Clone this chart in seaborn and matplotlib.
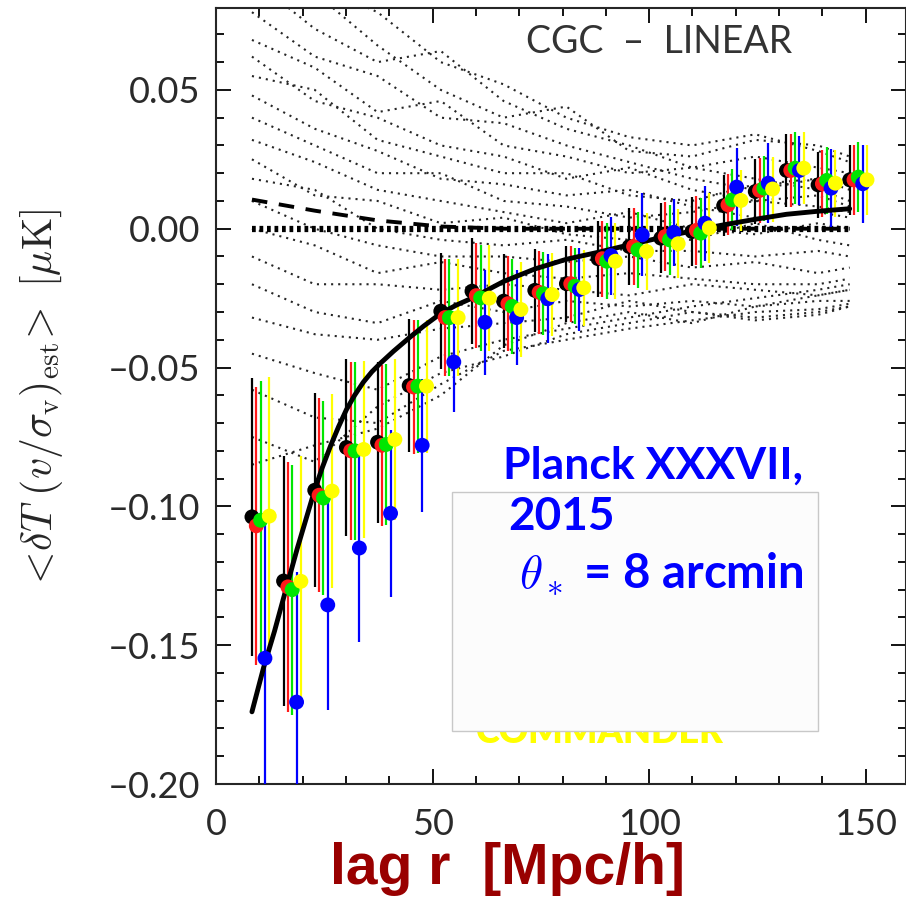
"""CGC - LINEAR pairwise kSZ estimator vs lag, Planck XXXVII style"""
import matplotlib

matplotlib.use("Agg")
import matplotlib.pyplot as plt
import numpy as np
import pandas as pd
import seaborn as sns
from matplotlib.patches import Rectangle
from matplotlib.ticker import FuncFormatter, MultipleLocator

sns.set_style("ticks")
plt.rcParams.update(
    {
        "font.family": ["Lato", "DejaVu Sans"],
        "mathtext.fontset": "cm",
        "axes.linewidth": 1.5,
    }
)

# lag bins [Mpc/h]
lags = [8.3, 15.6, 22.8, 30.1, 37.3, 44.6, 51.9, 59.1, 66.4, 73.6,
        80.9, 88.2, 95.4, 102.7, 109.9, 117.2, 124.5, 131.7, 139.0, 146.3]

# measured estimator per map [muK]
black = [-0.1038, -0.1269, -0.0942, -0.0788, -0.0769, -0.0565, -0.0297, -0.0225, -0.0261, -0.0222,
         -0.0198, -0.0108, -0.0064, -0.0034, -0.0010, 0.0083, 0.0134, 0.0210, 0.0158, 0.0176]
red = [-0.1070, -0.1290, -0.0960, -0.0800, -0.0780, -0.0570, -0.0320, -0.0241, -0.0270, -0.0229,
       -0.0198, -0.0108, -0.0064, -0.0028, -0.0006, 0.0086, 0.0138, 0.0210, 0.0162, 0.0176]
green = [-0.1050, -0.1300, -0.0970, -0.0800, -0.0777, -0.0567, -0.0320, -0.0249, -0.0280, -0.0234,
         -0.0207, -0.0117, -0.0076, -0.0040, -0.0016, 0.0104, 0.0146, 0.0218, 0.0174, 0.0186]
blue = [-0.1547, -0.1705, -0.1355, -0.1150, -0.1025, -0.0780, -0.0480, -0.0337, -0.0320, -0.0252,
        -0.0219, -0.0097, -0.0022, -0.0013, 0.0020, 0.0150, 0.0164, 0.0210, 0.0146, 0.0162]
yellow = [-0.1035, -0.1270, -0.0945, -0.0795, -0.0759, -0.0567, -0.0320, -0.0250, -0.0291, -0.0237,
          -0.0213, -0.0117, -0.0082, -0.0054, 0.0003, 0.0102, 0.0143, 0.0218, 0.0164, 0.0176]

# 1-sigma errors
err_main = [0.050, 0.045, 0.035, 0.032, 0.029, 0.024, 0.021, 0.019, 0.017, 0.015,
            0.0137, 0.0137, 0.0137, 0.0125, 0.0125, 0.011, 0.0117, 0.013, 0.012, 0.0125]
err_blue = [0.050, 0.047, 0.038, 0.034, 0.030, 0.024, 0.018, 0.019, 0.017, 0.016,
            0.015, 0.014, 0.015, 0.012, 0.0135, 0.014, 0.0145, 0.0125, 0.014, 0.014]

# theoretical prediction (read on a finer grid)
model_lags = [8.3, 11.0, 13.5, 15.6, 18.7, 22.8, 24.5, 26.5, 28.3, 30.1, 32.0, 34.0, 36.0,
              38.0, 41.0, 44.6, 48.0, 51.9, 55.5, 59.1, 66.4, 73.6, 80.9, 88.2, 95.4, 102.7,
              109.9, 117.2, 124.5, 131.7, 139.0, 146.3]
model = [-0.174, -0.158, -0.145, -0.133, -0.1155, -0.094, -0.0862, -0.078, -0.0713, -0.0652,
         -0.0600, -0.0553, -0.0515, -0.0484, -0.0441, -0.0393, -0.0350, -0.0305, -0.0275,
         -0.0250, -0.0190, -0.0145, -0.0110, -0.0085, -0.0058, -0.0032, -0.0008, 0.0014,
         0.0034, 0.0052, 0.0063, 0.0072]

# null simulations (dotted), sampled at every other lag bin
sim_lags = [8.3, 22.8, 37.3, 51.9, 66.4, 80.9, 95.4, 109.9, 124.5, 139.0, 146.3]
sims = [
    [0.095, 0.088, 0.078, 0.060, 0.052, 0.040, 0.033, 0.030, 0.034, 0.028, 0.024],
    [0.090, 0.072, 0.060, 0.064, 0.046, 0.036, 0.030, 0.022, 0.018, 0.014, 0.010],
    [0.082, 0.085, 0.066, 0.050, 0.040, 0.044, 0.028, 0.026, 0.032, 0.030, 0.026],
    [0.078, 0.062, 0.055, 0.040, 0.038, 0.030, 0.024, 0.018, 0.014, 0.018, 0.014],
    [0.068, 0.058, 0.042, 0.046, 0.030, 0.026, 0.020, 0.022, 0.026, 0.022, 0.020],
    [0.062, 0.046, 0.040, 0.030, 0.026, 0.018, 0.022, 0.014, 0.010, 0.012, 0.008],
    [0.055, 0.050, 0.032, 0.026, 0.020, 0.020, 0.012, 0.010, 0.016, 0.018, 0.016],
    [0.048, 0.036, 0.028, 0.018, 0.016, 0.012, 0.014, 0.008, 0.004, 0.006, 0.004],
    [0.040, 0.030, 0.020, 0.020, 0.010, 0.008, 0.004, 0.006, 0.010, 0.008, 0.006],
    [0.032, 0.024, 0.014, 0.010, 0.006, 0.002, 0.006, 0.000, -0.002, 0.002, 0.000],
    [0.025, 0.012, 0.010, 0.002, 0.004, -0.002, -0.004, -0.004, 0.002, -0.004, -0.006],
    [0.018, 0.014, 0.000, -0.004, -0.006, -0.004, -0.008, -0.008, -0.010, -0.008, -0.010],
    [0.010, 0.000, -0.006, -0.010, -0.010, -0.012, -0.010, -0.014, -0.012, -0.016, -0.014],
    [0.000, -0.006, -0.016, -0.012, -0.016, -0.018, -0.016, -0.018, -0.020, -0.020, -0.018],
    [-0.010, -0.020, -0.020, -0.022, -0.020, -0.022, -0.024, -0.020, -0.022, -0.024, -0.022],
    [-0.020, -0.030, -0.034, -0.026, -0.030, -0.026, -0.028, -0.026, -0.028, -0.026, -0.026],
    [-0.032, -0.038, -0.040, -0.036, -0.034, -0.032, -0.026, -0.030, -0.032, -0.030, -0.028],
    [-0.045, -0.052, -0.058, -0.046, -0.040, -0.036, -0.032, -0.028, -0.025, -0.022, -0.020],
    [-0.058, -0.068, -0.070, -0.056, -0.044, -0.040, -0.036, -0.033, -0.030, -0.029, -0.027],
    [-0.075, -0.084, -0.064, -0.052, -0.046, -0.038, -0.034, -0.030, -0.033, -0.031, -0.028],
    [-0.085, -0.078, -0.072, -0.060, -0.042, -0.034, -0.030, -0.034, -0.028, -0.024, -0.022],
]
sim_mean = [0.0105, 0.0065, 0.003, 0.0008, 0.0, 0.0, 0.0, 0.0, 0.0, 0.0, 0.0]
zero_lags = [8.3, 146.3]
zero_vals = [0.0, 0.0]

fig = plt.figure(figsize=(9.06, 8.97), dpi=100)
ax = fig.add_axes([216 / 906, 113 / 897, 690 / 906, 776 / 897])

# simulations
sim_df = pd.DataFrame(
    [(k, r, v) for k, s in enumerate(sims) for r, v in zip(sim_lags, s)],
    columns=["sim", "lag", "val"],
)
sns.lineplot(data=sim_df, x="lag", y="val", units="sim", estimator=None, color="0.15",
             lw=1.5, linestyle=(0, (1, 2.4)), ax=ax, zorder=1)
ax.plot(sim_lags, sim_mean, color="black", lw=2.8, linestyle=(0, (4, 3)), zorder=2)
ax.plot(zero_lags, zero_vals, color="black", lw=4.5, linestyle=(0, (0.6, 0.6)), zorder=2)

# model
sns.lineplot(x=model_lags, y=model, color="black", lw=3.5, ax=ax, zorder=5)

# measurements
series = [("black", black, err_main), ("red", red, err_main), ("green", green, err_main),
          ("blue", blue, err_blue), ("yellow", yellow, err_main)]
colors = {"black": "#000000", "red": "#ff1a1a", "green": "#00e600",
          "blue": "#0000ff", "yellow": "#ffff00"}
rows = []
for k, (name, vals, errs) in enumerate(series):
    x = np.array(lags) + 1.0 * k
    ax.errorbar(x, vals, yerr=errs, fmt="none", ecolor=colors[name], elinewidth=1.6,
                capsize=0, zorder=3)
    rows += [(name, xi, v) for xi, v in zip(x, vals)]
pts = pd.DataFrame(rows, columns=["map", "lag", "val"])
sns.scatterplot(data=pts, x="lag", y="val", hue="map", palette=colors, s=115,
                linewidth=0, legend=False, ax=ax, zorder=6)

ax.set_xlim(0, 159.3)
ax.set_ylim(-0.20, 0.0795)
ax.xaxis.set_major_locator(MultipleLocator(50))
ax.xaxis.set_minor_locator(MultipleLocator(10))
ax.yaxis.set_major_locator(MultipleLocator(0.05))
ax.yaxis.set_minor_locator(MultipleLocator(0.01))


def fmt(v, pos):
    s = f"{v:.2f}"
    if s == "-0.00":
        s = "0.00"
    return s.replace("-", "\u2013")


ax.yaxis.set_major_formatter(FuncFormatter(fmt))
ax.tick_params(which="both", direction="in", top=True, right=True, width=1.3, color="black")
ax.tick_params(which="major", length=11, labelsize=26, labelcolor="#2a2a2a")
ax.tick_params(which="minor", length=6)
ax.tick_params(axis="y", pad=11)
ax.tick_params(axis="x", pad=17)
ax.set_xlabel("")
ax.set_ylabel("")

ax.text(0.642, 0.956, "CGC  \u2013  LINEAR", transform=ax.transAxes, ha="center",
        va="center", fontsize=27, color="#333333")

# annotation panel
ax.text(0.377, 0.053, "COMMANDER", transform=ax.transAxes, fontsize=26,
        fontweight="heavy", color="#ffff00", zorder=7)
ax.add_patch(Rectangle((0.342, 0.0687), 0.5305, 0.308, transform=ax.transAxes,
                       facecolor="#fcfcfc", edgecolor="#c8c8c8", lw=1, zorder=8))
ax.text(0.416, 0.394, "Planck XXXVII,", transform=ax.transAxes, fontsize=32,
        fontweight="bold", color="#0000ff", va="baseline", zorder=9)
ax.text(0.423, 0.327, "2015", transform=ax.transAxes, fontsize=33,
        fontweight="bold", color="#0000ff", va="baseline", zorder=9)
ax.text(0.439, 0.2526, r"$\theta_*$ = 8 arcmin", transform=ax.transAxes, fontsize=34,
        fontweight="bold", color="#0000ff", va="baseline", zorder=9)

fig.text(42 / 906, 1 - 400 / 897,
         r"$<\!\delta T\ (v/\sigma_{\rm v})_{\rm est}\!>\ [\mu{\rm K}]$",
         rotation=90, ha="center", va="center", fontsize=30)
fig.text(507 / 906, 1 - 884 / 897, "lag r  [Mpc/h]", ha="center", va="baseline",
         fontsize=41, fontweight="bold", color="#990000",
         family=["Liberation Sans", "DejaVu Sans"])

plt.savefig("out.png", dpi=100)
plt.close()
